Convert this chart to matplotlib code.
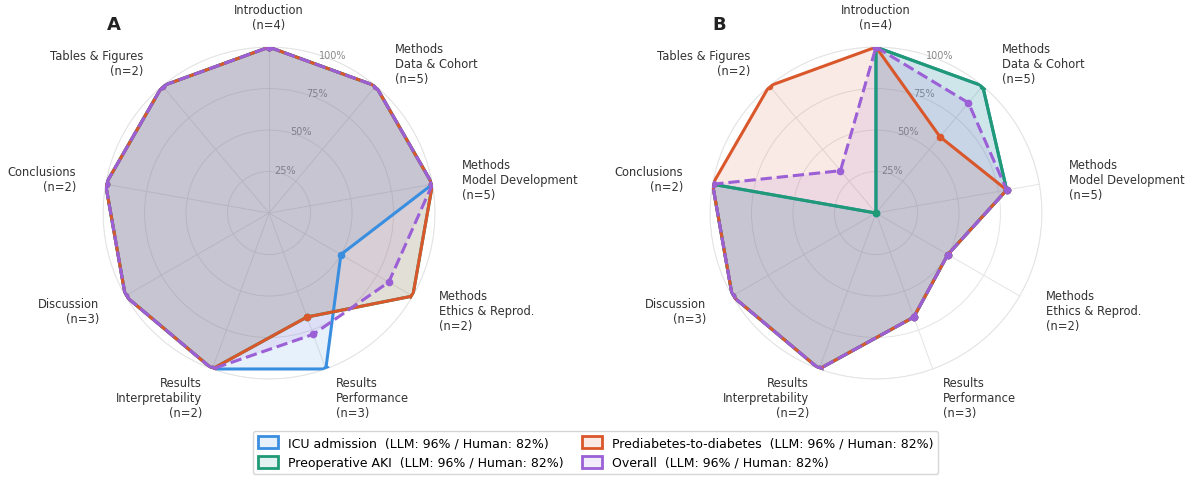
import numpy as np
import matplotlib
matplotlib.use('Agg')
import matplotlib.pyplot as plt
import matplotlib.patches as mpatches
from matplotlib.colors import to_rgba

categories = ['Introduction\n(n=4)', 'Methods\nData & Cohort\n(n=5)', 'Methods\nModel Development\n(n=5)',
              'Methods\nEthics & Reprod.\n(n=2)', 'Results\nPerformance\n(n=3)', 'Results\nInterpretability\n(n=2)',
              'Discussion\n(n=3)', 'Conclusions\n(n=2)', 'Tables & Figures\n(n=2)']

series_names = ['ICU admission', 'Preoperative AKI', 'Prediabetes-to-diabetes', 'Overall']
legend_suffix = ['(LLM: 96% / Human: 82%)'] * 4

rticks = [0.25, 0.5, 0.75, 1.0]
rtick_labels = ['25%', '50%', '75%', '100%']

# panel A
a_icu = [1.0, 1.0, 1.0, 0.5, 1.0, 1.0, 1.0, 1.0, 1.0]
a_aki = [1.0, 1.0, 1.0, 1.0, 0.667, 1.0, 1.0, 1.0, 1.0]
a_pre = [1.0, 1.0, 1.0, 1.0, 0.667, 1.0, 1.0, 1.0, 1.0]
a_all = [1.0, 1.0, 1.0, 0.833, 0.778, 1.0, 1.0, 1.0, 1.0]

# panel B
b_icu = [1.0, 1.0, 0.8, 0.5, 0.667, 1.0, 1.0, 1.0, 0.0]
b_aki = [1.0, 1.0, 0.8, 0.5, 0.667, 1.0, 1.0, 1.0, 0.0]
b_pre = [1.0, 0.6, 0.8, 0.5, 0.667, 1.0, 1.0, 1.0, 1.0]
b_all = [1.0, 0.867, 0.8, 0.5, 0.667, 1.0, 1.0, 1.0, 0.333]

colors = ['#3a8ee0', '#1f9a74', '#d9572b', '#9b5fd6']
styles = ['-', '-', '-', '--']

n = len(categories)
angles = np.linspace(0, 2 * np.pi, n, endpoint=False)


def radar(ax, data):
    ax.set_theta_offset(np.pi / 2)
    ax.set_theta_direction(-1)
    ax.set_ylim(0, 1.0)
    ax.set_xticks(angles)
    ax.set_xticklabels([])
    ax.set_yticks(rticks)
    ax.set_yticklabels([])
    ax.set_axisbelow(True)
    ax.grid(color='#e4e4e4', linewidth=0.7, zorder=0)
    ax.spines['polar'].set_color('#e4e4e4')
    ax.spines['polar'].set_linewidth(0.7)
    ax.spines['polar'].set_zorder(0)
    for r, t in zip(rticks, rtick_labels):
        ax.text(np.deg2rad(22.5), r, t, ha='center', va='bottom', fontsize=7, color='#888888', zorder=1)
    for vals, c, ls in zip(data, colors, styles):
        v = list(vals) + [vals[0]]
        t = list(angles) + [angles[0]]
        ax.fill(t, v, color=c, alpha=0.12, linewidth=0, zorder=2)
        ax.plot(t, v, color=c, linestyle=ls, linewidth=2.2, marker='o', markersize=4.5, zorder=3)
    for ang, lab in zip(angles, categories):
        s = np.sin(ang)
        if abs(s) < 0.01:
            ha = 'center'
        elif s > 0:
            ha = 'left'
        else:
            ha = 'right'
        ax.text(ang, 1.18, lab, ha=ha, va='center', fontsize=8.3, color='#333333',
                linespacing=1.2)


fig = plt.figure(figsize=(11.91, 4.81), dpi=100)
axA = fig.add_axes([0.0865, 0.21, 0.2788, 0.690], projection='polar')
axB = fig.add_axes([0.5961, 0.21, 0.2788, 0.690], projection='polar')
radar(axA, [a_icu, a_aki, a_pre, a_all])
radar(axB, [b_icu, b_aki, b_pre, b_all])

fig.text(0.090, 0.948, 'A', fontsize=13, fontweight='bold', ha='left', va='center', color='#222222')
fig.text(0.598, 0.948, 'B', fontsize=13, fontweight='bold', ha='left', va='center', color='#222222')

handles = [mpatches.Patch(facecolor=to_rgba(c, 0.12), edgecolor=c, linewidth=2,
                          label=nm + '  ' + sfx)
           for c, nm, sfx in zip(colors, series_names, legend_suffix)]
fig.legend(handles=handles, loc='lower center', bbox_to_anchor=(0.5, 0.0), ncol=2,
           fontsize=9, frameon=True, edgecolor='#cccccc', columnspacing=1.5,
           handlelength=1.6, handleheight=1.1)

fig.savefig('out.png', dpi=100)
